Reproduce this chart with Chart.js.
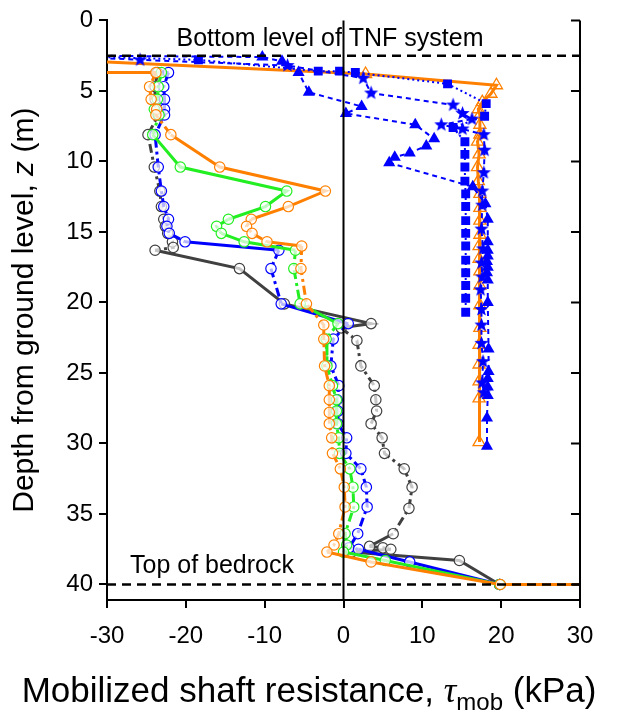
<!DOCTYPE html>
<html>
<head>
<meta charset="utf-8">
<script src="https://cdn.jsdelivr.net/npm/chart.js@4.4.1/dist/chart.umd.min.js"></script>
<style>
  html, body { margin: 0; padding: 0; background: #fff; }
  canvas { display: block; }
</style>
</head>
<body>
<canvas id="depthChart" width="619" height="715"></canvas>
<script>
// depth z (m) and mobilized shaft resistance tau (kPa)
const depthGray = [3.7, 3.7, 4.7, 5.6, 6.3, 6.7, 8.1, 10.4, 12.1, 13.2, 14.1, 14.6, 15.1, 15.7, 16.1, 16.3, 17.6, 20.1, 21.5, 21.8, 22.7, 24.5, 25.9, 26.9, 27.7, 28.6, 29.6, 30.7, 31.8, 33.1, 34.6, 36.4, 37.3, 37.4, 37.5, 37.7, 38.3, 40.0, 40.0];
const tauGray   = [-33, -23.6, -23.9, -23.9, -23.6, -23.5, -24.8, -24.0, -23.3, -23.1, -22.8, -22.6, -22.3, -21.7, -21.6, -23.9, -13.2, -7.5, 3.5, -0.3, 1.7, 2.2, 3.9, 4.1, 4.2, 3.5, 4.9, 5.2, 7.7, 8.7, 8.3, 6.3, 3.3, 5.0, 6.0, 1.0, 14.7, 19.8, 35];

const depthBlue = [3.7, 3.7, 4.7, 5.6, 6.3, 6.7, 8.1, 10.4, 12.1, 13.2, 14.1, 14.6, 15.1, 15.7, 16.3, 17.6, 20.1, 21.5, 22.6, 24.5, 25.9, 26.9, 27.7, 28.6, 29.6, 30.7, 31.8, 33.1, 34.5, 36.4, 37.4, 37.5, 38.4, 40.0, 40.0];
const tauBlue   = [-33, -22.2, -22.8, -22.7, -22.7, -22.7, -23.9, -23.5, -23.1, -22.8, -22.2, -22.4, -22.1, -20.1, -8.2, -9.2, -7.9, 0.6, -1.3, -1.6, -0.6, -0.8, -0.7, -0.7, 0.4, 0.3, 2.2, 2.9, 3.0, 1.8, 0.7, 1.9, 8.4, 19.8, 35];

const depthGreen = [3.7, 3.7, 4.7, 5.6, 6.3, 6.7, 8.1, 10.4, 12.1, 13.2, 14.1, 14.6, 15.1, 15.7, 16.3, 17.6, 20.1, 21.5, 22.6, 24.5, 25.9, 26.9, 27.7, 28.6, 29.6, 30.7, 31.8, 33.1, 34.5, 36.4, 37.2, 37.7, 38.3, 40.0, 40.0];
const tauGreen   = [-33, -23.1, -23.5, -23.6, -24.0, -23.4, -24.2, -20.7, -7.2, -9.9, -14.6, -16.1, -15.5, -12.6, -6.1, -6.3, -5.5, -0.7, -2.2, -2.1, -1.4, -0.9, -0.9, -0.9, -0.6, -0.5, 0.8, 1.2, 1.3, 0.2, 0.4, 0.0, 5.3, 19.8, 35];

const depthOrange = [3.7, 3.7, 4.7, 5.6, 6.3, 6.7, 8.1, 10.4, 12.1, 13.2, 14.1, 14.6, 15.1, 15.7, 16.0, 17.6, 20.1, 21.6, 22.6, 24.5, 25.9, 26.9, 27.8, 28.6, 29.6, 30.7, 31.8, 33.1, 34.5, 36.4, 37.2, 37.7, 38.4, 40.0, 40.0];
const tauOrange   = [-33, -23.8, -24.6, -24.4, -23.7, -23.8, -21.9, -15.7, -2.3, -7.0, -11.7, -12.3, -11.6, -9.7, -5.3, -5.4, -4.7, -2.5, -2.5, -2.4, -1.8, -1.8, -1.8, -1.8, -1.5, -1.4, -0.4, 0.1, 0.2, -0.6, -1.2, -2.1, 3.5, 19.9, 35];

const depthSquare = [2.55, 2.8, 3.6, 3.6, 3.7, 4.5, 5.9, 6.8, 7.6, 8.6, 9.5, 10.4, 11.4, 12.3, 13.2, 14.2, 15.1, 16.0, 17.0, 17.9, 18.8, 19.7, 20.7];
const tauSquare   = [-33, -18.4, -3.2, -0.5, 1.5, 13.2, 18.1, 17.9, 13.9, 15.4, 15.4, 15.4, 15.4, 15.5, 15.5, 15.5, 15.5, 15.5, 15.5, 15.5, 15.5, 15.5, 15.5];

const depthStar = [2.6, 2.8, 3.2, 4.1, 5.15, 6.0, 6.6, 7.0, 7.4, 7.7, 8.1, 9.2, 10.8, 12.1, 13.1, 14.8, 16.2, 17.2, 18.2, 19.1, 20.5, 21.6, 22.9, 24.2, 25.7, 26.4];
const tauStar   = [-33, -25.8, -7.1, 2.5, 3.5, 13.9, 15.1, 16.3, 12.4, 15.1, 17.8, 17.9, 17.8, 17.6, 17.6, 17.5, 17.7, 17.5, 17.6, 17.4, 17.5, 17.5, 17.5, 17.7, 17.6, 17.8];

const depthTriangle = [2.5, 2.6, 2.9, 3.7, 5.1, 6.1, 6.6, 7.4, 8.4, 8.9, 9.4, 9.7, 10.1, 11.8, 13.0, 14.1, 15.7, 16.3, 16.7, 17.1, 17.5, 17.9, 18.4, 20.0, 23.3, 24.9, 25.4, 26.0, 26.6, 28.2, 30.2];
const tauTriangle   = [-33, -10.3, -7.8, -5.7, -4.4, 2.3, 0.3, 9.1, 11.5, 10.5, 8.4, 6.5, 5.8, 16.4, 18.0, 18.3, 18.3, 18.3, 18.3, 18.2, 18.3, 18.2, 18.3, 18.3, 18.4, 18.4, 18.3, 18.3, 18.3, 18.2, 18.2];

const depthOpenTri = [2.88, 3.8, 4.6, 5.2, 5.8, 6.3, 6.7, 7.4, 8.1, 8.6, 9.5, 10.4, 11.4, 12.3, 13.3, 14.2, 15.2, 16.0, 16.9, 17.8, 18.8, 20.2, 21.8, 23.0, 24.4, 25.6, 26.8, 29.9];
const tauOpenTri   = [-33, 2.8, 19.4, 18.7, 17.6, 17.1, 17.3, 17.3, 17.3, 17.0, 17.2, 17.0, 17.1, 17.3, 17.3, 17.3, 17.3, 17.2, 17.2, 17.3, 17.3, 17.3, 17.3, 17.2, 17.2, 17.2, 17.2, 17.2];

const xTicks = [-30, -20, -10, 0, 10, 20, 30];
const yTicks = [0, 5, 10, 15, 20, 25, 30, 35, 40];
const tnfBottom = 2.5;
const bedrockTop = 40;

const FONT = '"Liberation Sans", Arial, sans-serif';
const toPoints = (z, t) => z.map((d, i) => ({ x: t[i], y: d }));

function makeStar(r, color) {
  const size = Math.ceil(r * 2 + 2);
  const c = document.createElement('canvas');
  c.width = size; c.height = size;
  const g = c.getContext('2d');
  g.fillStyle = color;
  g.beginPath();
  for (let i = 0; i < 10; i++) {
    const rad = i % 2 === 0 ? r : r * 0.42;
    const a = -Math.PI / 2 + i * Math.PI / 5;
    const px = size / 2 + rad * Math.cos(a), py = size / 2 + rad * Math.sin(a);
    if (i === 0) g.moveTo(px, py); else g.lineTo(px, py);
  }
  g.closePath();
  g.fill();
  return c;
}

// big horizontal jumps are drawn solid, the near-vertical parts dash-dot
const circleDash = ctx => Math.abs(ctx.p1.parsed.x - ctx.p0.parsed.x) > 2.5 ? undefined : [9, 4, 3, 4];

function circleSeries(z, t, color, order) {
  return {
    data: toPoints(z, t), showLine: true, order: order,
    borderColor: color, borderWidth: 3, borderDash: [],
    pointStyle: 'circle', pointRadius: 5.2, pointBorderWidth: 1.2,
    pointBorderColor: color, pointBackgroundColor: 'rgba(255,255,255,0.7)',
    segment: { borderDash: circleDash }
  };
}

const datasets = [
  circleSeries(depthGray, tauGray, '#404040', 8),
  circleSeries(depthBlue, tauBlue, '#0000ff', 7),
  circleSeries(depthGreen, tauGreen, '#22ee22', 6),
  circleSeries(depthOrange, tauOrange, '#ff8000', 5),
  {
    data: toPoints(depthOpenTri, tauOpenTri), showLine: true, order: 4,
    borderColor: '#ff8000', borderWidth: 3,
    pointStyle: 'triangle', pointRadius: 7, pointBorderWidth: 1.3,
    pointBorderColor: '#ff8000', pointBackgroundColor: 'rgba(255,255,255,0)'
  },
  {
    data: toPoints(depthSquare, tauSquare), showLine: true, order: 3,
    borderColor: '#0000ff', borderWidth: 2, borderDash: [2, 3],
    pointStyle: 'rect', pointRadius: 6.3, pointBorderWidth: 0,
    pointBackgroundColor: '#0000ff'
  },
  {
    data: toPoints(depthTriangle, tauTriangle), showLine: true, order: 2,
    borderColor: '#0000ff', borderWidth: 2, borderDash: [5, 4],
    pointStyle: 'triangle', pointRadius: 7, pointBorderWidth: 0,
    pointBackgroundColor: '#0000ff'
  },
  {
    data: toPoints(depthStar, tauStar), showLine: true, order: 1,
    borderColor: '#0000ff', borderWidth: 2, borderDash: [5, 4],
    pointStyle: makeStar(7.5, '#0000ff'), pointRadius: 7
  }
];

const frame = {
  id: 'frame',
  afterDatasetsDraw(chart) {
    const { ctx, chartArea: a, scales: { x, y } } = chart;
    ctx.save();
    // zero line
    ctx.strokeStyle = '#000';
    ctx.lineWidth = 2;
    ctx.beginPath();
    ctx.moveTo(x.getPixelForValue(0), a.top);
    ctx.lineTo(x.getPixelForValue(0), a.bottom);
    ctx.stroke();
    // reference levels
    ctx.lineWidth = 2.5;
    ctx.setLineDash([9, 6]);
    [tnfBottom, bedrockTop].forEach(v => {
      ctx.beginPath();
      ctx.moveTo(a.left, y.getPixelForValue(v));
      ctx.lineTo(a.right, y.getPixelForValue(v));
      ctx.stroke();
    });
    ctx.setLineDash([]);
    // right axis with inward ticks
    ctx.lineWidth = 2;
    ctx.beginPath();
    ctx.moveTo(a.right, a.top);
    ctx.lineTo(a.right, a.bottom);
    yTicks.forEach(v => {
      ctx.moveTo(a.right, y.getPixelForValue(v));
      ctx.lineTo(a.right - 9, y.getPixelForValue(v));
    });
    ctx.stroke();
    // labels
    ctx.fillStyle = '#000';
    ctx.font = '25px ' + FONT;
    ctx.textBaseline = 'alphabetic';
    ctx.textAlign = 'center';
    ctx.fillText('Bottom level of TNF system', 330, 46);
    ctx.textAlign = 'left';
    ctx.fillText('Top of bedrock', 130, 573);
    ctx.restore();
  },
  afterDraw(chart) {
    const { ctx, chartArea: a } = chart;
    ctx.save();
    ctx.fillStyle = '#000';
    ctx.textBaseline = 'alphabetic';
    // x title with italic tau and subscript
    const parts = [
      { t: 'Mobilized shaft resistance, ', f: '35px ' + FONT, dy: 0 },
      { t: '\u03c4', f: 'italic 35px "Liberation Serif", "Times New Roman", serif', dy: 0 },
      { t: 'mob', f: '24px ' + FONT, dy: 8 },
      { t: ' (kPa)', f: '35px ' + FONT, dy: 0 }
    ];
    let w = 0;
    parts.forEach(p => { ctx.font = p.f; p.w = ctx.measureText(p.t).width; w += p.w; });
    let cx = 309 - w / 2;
    ctx.textAlign = 'left';
    parts.forEach(p => { ctx.font = p.f; ctx.fillText(p.t, cx, 702 + p.dy); cx += p.w; });
    // y title
    const yParts = [
      { t: 'Depth from ground level, ', f: '30px ' + FONT },
      { t: 'z', f: 'italic 30px ' + FONT },
      { t: ' (m)', f: '30px ' + FONT }
    ];
    let h = 0;
    yParts.forEach(p => { ctx.font = p.f; p.w = ctx.measureText(p.t).width; h += p.w; });
    ctx.translate(33, (a.top + a.bottom) / 2);
    ctx.rotate(-Math.PI / 2);
    let cy = -h / 2;
    yParts.forEach(p => { ctx.font = p.f; ctx.fillText(p.t, cy, 0); cy += p.w; });
    ctx.restore();
  }
};

new Chart(document.getElementById('depthChart'), {
  type: 'scatter',
  data: { datasets: datasets },
  options: {
    responsive: false,
    animation: false,
    devicePixelRatio: 1,
    layout: { padding: { top: 18, right: 39, left: 0, bottom: 0 } },
    plugins: { legend: { display: false }, tooltip: { enabled: false } },
    scales: {
      x: {
        type: 'linear', min: -30, max: 30,
        afterBuildTicks: s => { s.ticks = xTicks.map(v => ({ value: v })); },
        afterFit: s => { s.height = 115; },
        ticks: { color: '#000', font: { size: 24, family: FONT }, padding: 14, maxRotation: 0 },
        grid: { drawOnChartArea: false, tickLength: 8, color: '#000', lineWidth: 2 },
        border: { color: '#000', width: 2 }
      },
      y: {
        type: 'linear', reverse: true, min: 0, max: 41.1,
        afterBuildTicks: s => { s.ticks = yTicks.map(v => ({ value: v })); },
        afterFit: s => { s.width = 107; },
        ticks: { color: '#000', font: { size: 24, family: FONT }, padding: 6 },
        grid: { drawOnChartArea: false, tickLength: 8, color: '#000', lineWidth: 2 },
        border: { color: '#000', width: 2 }
      }
    }
  },
  plugins: [frame]
});
</script>
</body>
</html>
